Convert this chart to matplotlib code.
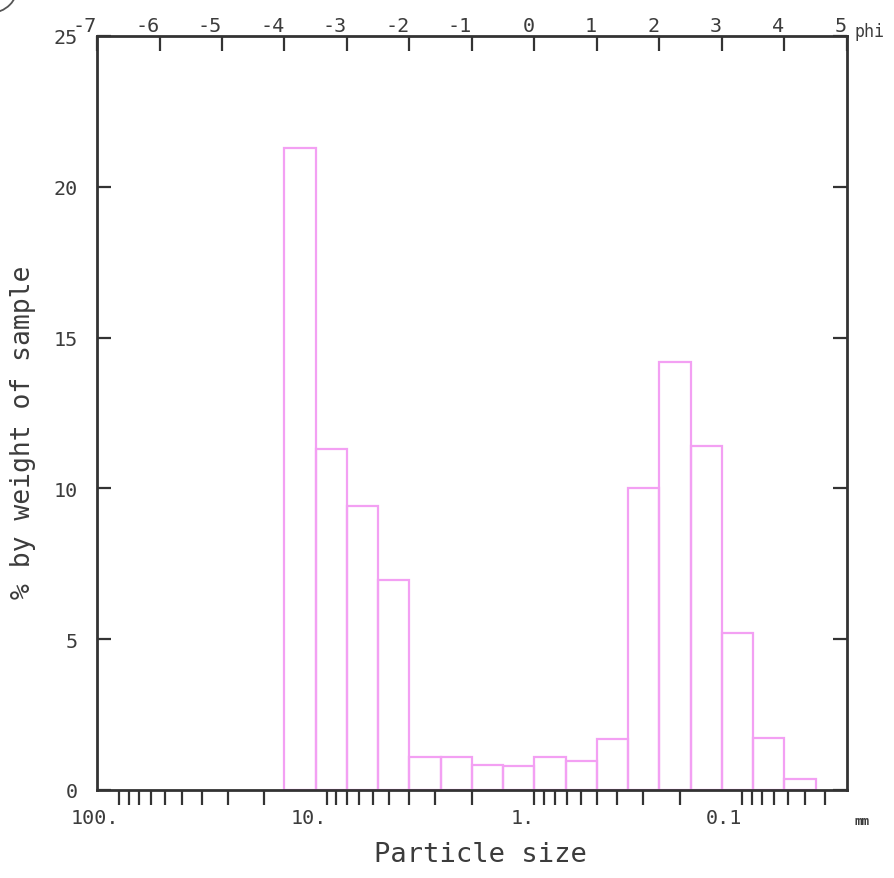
import numpy as np
import matplotlib
matplotlib.use("Agg")
import matplotlib.pyplot as plt
from matplotlib.patches import Arc

# Half-phi size classes (left edge of each class, phi units)
phi_left = [-4.0, -3.5, -3.0, -2.5, -2.0, -1.5, -1.0, -0.5, 0.0,
            0.5, 1.0, 1.5, 2.0, 2.5, 3.0, 3.5, 4.0]
# % by weight retained in each class
weight_pct = [21.3, 11.3, 9.4, 6.95, 1.1, 1.1, 0.82, 0.8, 1.1,
              0.96, 1.7, 10.0, 14.2, 11.4, 5.2, 1.72, 0.38]

phi_ticks = [-7, -6, -5, -4, -3, -2, -1, 0, 1, 2, 3, 4, 5]
mm_ticks = [100, 90, 80, 70, 60, 50, 40, 30, 20,
            10, 9, 8, 7, 6, 5, 4, 3, 2,
            1, 0.9, 0.8, 0.7, 0.6, 0.5, 0.4, 0.3, 0.2,
            0.1, 0.09, 0.08, 0.07, 0.06, 0.05, 0.04]
mm_labels = {100: "100.", 10: "10.", 1: "1.", 0.1: "0.1"}
y_ticks = [0, 5, 10, 15, 20, 25]

AX_COL = "#333333"
TXT_COL = "#3c3c3c"
BAR_COL = "#f3a0f3"
FONT = "DejaVu Sans Mono"
TICK_FS = 14.5

plt.rcParams["font.family"] = FONT

fig = plt.figure(figsize=(8.95, 8.79), dpi=100)
ax = fig.add_axes([97 / 895, 1 - 791 / 879, 750 / 895, 754 / 879])

ax.bar(phi_left, weight_pct, width=0.5, align="edge", fill=False,
       edgecolor=BAR_COL, linewidth=1.6)

ax.set_xlim(-7, 5)
ax.set_ylim(0, 25)

for sp in ax.spines.values():
    sp.set_color(AX_COL)
    sp.set_linewidth(2)

# bottom axis: particle size in mm, placed at phi = -log2(mm)
ax.set_xticks([-np.log2(v) for v in mm_ticks])
ax.set_xticklabels([mm_labels.get(v, "") for v in mm_ticks])
ax.tick_params(axis="x", direction="out", length=11, width=1.6,
               color=AX_COL, labelsize=TICK_FS, labelcolor=TXT_COL, pad=2)
for lab in ax.get_xticklabels():
    lab.set_horizontalalignment("right")

# y axis ticks on both sides, pointing in
ax.set_yticks(y_ticks)
ax.set_yticklabels([str(v) for v in y_ticks])
ax.tick_params(axis="y", direction="in", left=True, right=True, length=10,
               width=1.6, color=AX_COL, labelsize=TICK_FS, labelcolor=TXT_COL, pad=14)

# top axis: phi scale
ax2 = ax.twiny()
ax2.set_xlim(-7, 5)
ax2.set_xticks(phi_ticks)
ax2.set_xticklabels([str(v) for v in phi_ticks])
ax2.tick_params(axis="x", direction="in", length=11, width=1.6,
                color=AX_COL, labelsize=TICK_FS, labelcolor=TXT_COL, pad=1)
for lab in ax2.get_xticklabels():
    lab.set_horizontalalignment("right")
for sp in ax2.spines.values():
    sp.set_visible(False)

fig.text(855 / 895, 1 - 32 / 879, "phi", ha="left", va="center",
         fontsize=12, color=TXT_COL)
fig.text(855 / 895, 1 - 822 / 879, "mm", ha="left", va="center",
         fontsize=9, fontweight="bold", color=TXT_COL)
fig.text(480 / 895, 1 - 855 / 879, "Particle size", ha="center",
         va="center", fontsize=19.5, color=TXT_COL)
fig.text(23 / 895, 1 - 432 / 879, "% by weight of sample", ha="center",
         va="center", rotation=90, fontsize=19, color=TXT_COL)

# pencil circle fragment in the corner of the scan
arc = Arc((-10 / 895, 1 + 14 / 879), 56 / 895, 56 / 879, theta1=270, theta2=360,
          transform=fig.transFigure, color="#555555", linewidth=1.3)
fig.add_artist(arc)

fig.savefig("out.png", dpi=100)
